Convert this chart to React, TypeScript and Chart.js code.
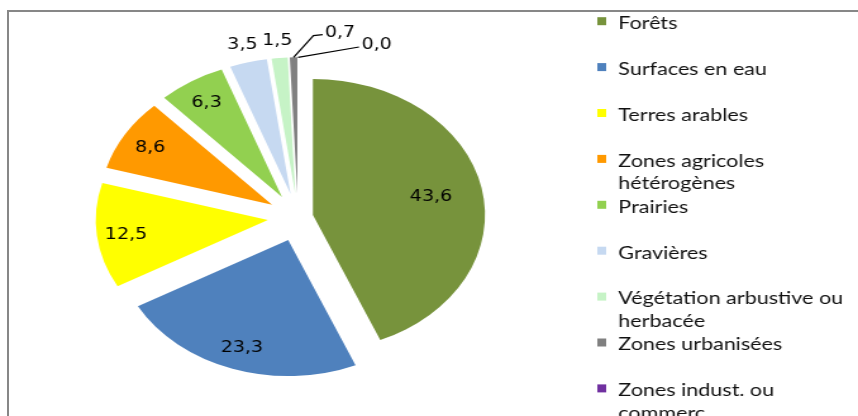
import React, { useEffect, useRef } from "react";
import { Chart, registerables } from "chart.js";

Chart.register(...registerables);

// ---- data ----
const categories: (string | string[])[] = [
  "Forêts",
  "Surfaces en eau",
  "Terres arables",
  ["Zones agricoles", "hétérogènes"],
  "Prairies",
  "Gravières",
  ["Végétation arbustive ou", "herbacée"],
  "Zones urbanisées",
  ["Zones indust. ou", "commerc."],
];
const shares = [43.6, 23.3, 12.5, 8.6, 6.3, 3.5, 1.5, 0.7, 0.0];
const colors = [
  "#77933C",
  "#4F81BD",
  "#FFFF00",
  "#FF9900",
  "#92D050",
  "#C6D9F1",
  "#C6F3C6",
  "#808080",
  "#7030A0",
];

// ---- style / layout ----
const explodePx = [12, 24, 24, 24, 24, 24, 24, 24, 24];
const VIEW_W = 858;
const VIEW_H = 416;
const CANVAS_W = 678; // drawn narrower, displayed stretched like the source image
const CANVAS_H = 480;
const PIE_RADIUS = 136;
const LABEL_FONT = "15px 'DejaVu Sans'";
const LEGEND_FONT = "17px Lato";
const LEADERS = [
  { path: [[15.7, -21.8], [23, -22.8]], text: [24.8, -25.6] },
  { path: [[48.2, -10.3]], text: [50.3, -14] },
];

const fmt = (v: number) => v.toFixed(1).replace(".", ",");

const explodePlugin = {
  id: "explode",
  afterDatasetsUpdate(chart: any) {
    const meta = chart.getDatasetMeta(0);
    meta.data.forEach((arc: any, i: number) => {
      const mid = (arc.startAngle + arc.endAngle) / 2;
      const t = explodePx[i] || 0;
      arc.x += t * Math.cos(mid);
      arc.y += t * Math.sin(mid);
    });
  },
};

const valueLabelPlugin = {
  id: "valueLabels",
  afterDatasetsDraw(chart: any) {
    const ctx = chart.ctx;
    const meta = chart.getDatasetMeta(0);
    const data = chart.data.datasets[0].data as number[];
    ctx.save();
    ctx.font = LABEL_FONT;
    ctx.fillStyle = "#000";
    ctx.strokeStyle = "#000";
    ctx.lineWidth = 1.2;
    ctx.textBaseline = "alphabetic";
    let leader = 0;
    meta.data.forEach((arc: any, i: number) => {
      const v = data[i];
      const { x, y, startAngle, endAngle, outerRadius } = arc;
      const mid = (startAngle + endAngle) / 2;
      const c = Math.cos(mid);
      const s = Math.sin(mid);
      const text = fmt(v);
      if (v >= 1) {
        const d = v >= 5 ? outerRadius * (v > 30 ? 0.7 : 0.83) : outerRadius + 19;
        ctx.textAlign = "center";
        ctx.fillText(text, x + c * d, y + s * d + 5.5);
      } else {
        const L = LEADERS[leader++];
        if (!L) return;
        const ax = x + c * outerRadius;
        const ay = y + s * outerRadius;
        ctx.beginPath();
        ctx.moveTo(ax, ay);
        L.path.forEach((p) => ctx.lineTo(ax + p[0], ay + p[1]));
        ctx.stroke();
        ctx.textAlign = "left";
        ctx.fillText(text, ax + L.text[0], ay + L.text[1] + 5.5);
      }
    });
    ctx.restore();
  },
};

const legendPlugin = {
  id: "sideLegend",
  afterDraw(chart: any) {
    const ctx = chart.ctx;
    const labels = chart.data.labels as (string | string[])[];
    const bg = chart.data.datasets[0].backgroundColor as string[];
    const x0 = 472;
    const y0 = 23;
    const step = 45.9;
    const lineStep = 22.6;
    ctx.save();
    ctx.font = LEGEND_FONT;
    ctx.textAlign = "left";
    ctx.textBaseline = "alphabetic";
    labels.forEach((lab, i) => {
      const yc = y0 + i * step;
      ctx.fillStyle = bg[i];
      ctx.fillRect(x0, yc - 5.8, 7, 8);
      ctx.fillStyle = "#111";
      const lines = Array.isArray(lab) ? lab : [lab];
      lines.forEach((ln, j) => ctx.fillText(ln, x0 + 16.6, yc + 6 + j * lineStep));
    });
    ctx.restore();
  },
};

export default function App() {
  const ref = useRef<HTMLCanvasElement | null>(null);

  useEffect(() => {
    if (!ref.current) return;
    const chart = new Chart(ref.current, {
      type: "pie",
      data: {
        labels: categories as any,
        datasets: [
          {
            data: shares,
            backgroundColor: colors,
            borderWidth: 0,
            clip: false as any,
          },
        ],
      },
      options: {
        responsive: false,
        animation: false,
        devicePixelRatio: 1,
        events: [],
        radius: PIE_RADIUS,
        layout: { padding: { left: 0, top: 0, right: 207, bottom: 45.4 } },
        plugins: {
          legend: { display: false },
          tooltip: { enabled: false },
        },
      } as any,
      plugins: [explodePlugin, valueLabelPlugin, legendPlugin],
    });
    return () => chart.destroy();
  }, []);

  return (
    <div
      style={{
        position: "fixed",
        left: 0,
        top: 0,
        width: VIEW_W,
        height: VIEW_H,
        overflow: "hidden",
        background: "#fff",
      }}
    >
      <div
        style={{
          position: "absolute",
          left: 7,
          top: 10,
          width: 1000,
          height: 1000,
          borderLeft: "2px solid #878787",
          borderTop: "2px solid #878787",
        }}
      />
      <canvas
        ref={ref}
        width={CANVAS_W}
        height={CANVAS_H}
        style={{
          position: "absolute",
          left: 0,
          top: 0,
          width: VIEW_W,
          height: CANVAS_H,
          display: "block",
        }}
      />
    </div>
  );
}
